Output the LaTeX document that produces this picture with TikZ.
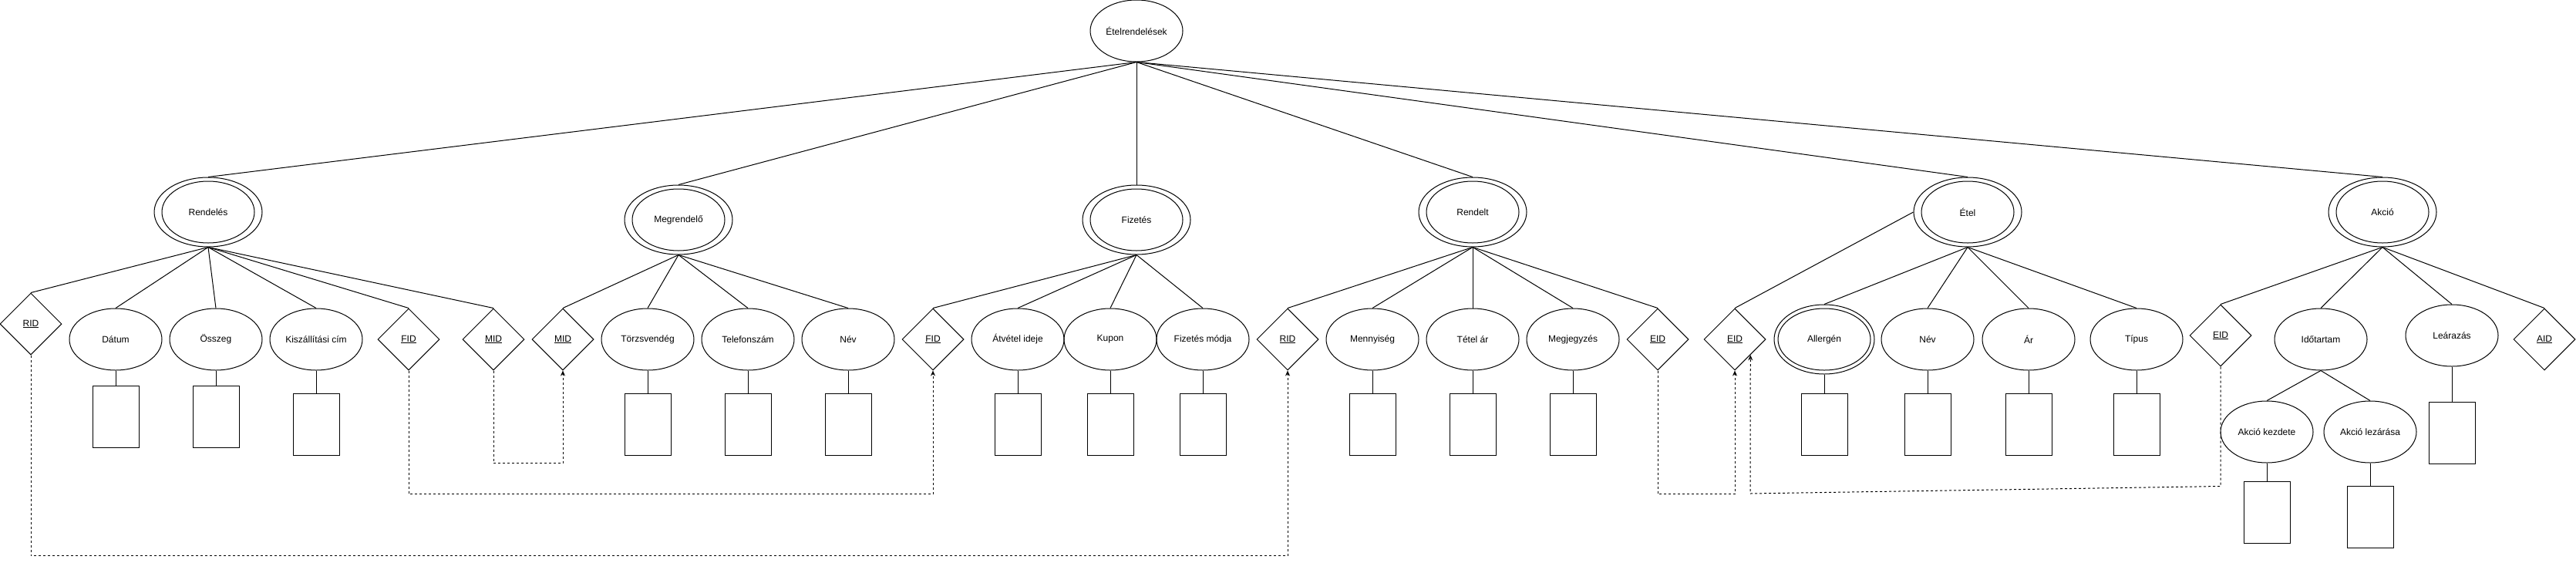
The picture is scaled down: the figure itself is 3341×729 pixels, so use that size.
\documentclass[tikz,border=0pt]{standalone}
\usepackage{fontspec}
\setmainfont{Liberation Sans}
\usetikzlibrary{shapes.geometric,arrows.meta,calc}
\begin{document}
\begin{tikzpicture}[x=1pt,y=-1pt,line width=1pt,
  every node/.style={font=\fontsize{12}{14}\selectfont},
  attr/.style={ellipse,draw,minimum width=120pt,minimum height=80pt,inner sep=0pt},
  entouter/.style={ellipse,draw,minimum width=140pt,minimum height=90pt,inner sep=0pt},
  keyd/.style={diamond,draw,minimum width=80pt,minimum height=80pt,inner sep=0pt},
  valbox/.style={draw,minimum width=60pt,minimum height=80pt,inner sep=0pt},
  fk/.style={dash pattern=on 3pt off 3pt,-{Stealth[length=7pt,width=6pt]}},
  conn/.style={draw}]
\useasboundingbox (0,0) rectangle (3341,729);

% root
\node[attr] (root) at (1474,40) {Ételrendelések};

% entities
\node[entouter] (Rendeles) at (270,275) {};
\node[attr] (RendelesIn) at (Rendeles) {Rendelés};
\node[entouter] (Megrendelo) at (880,285) {};
\node[attr] (MegrendeloIn) at (Megrendelo) {Megrendelő};
\node[entouter] (Fizetes) at (1474,285) {};
\node[attr] (FizetesIn) at (Fizetes) {Fizetés};
\node[entouter] (Rendelt) at (1910,275) {};
\node[attr] (RendeltIn) at (Rendelt) {Rendelt};
\node[entouter] (Etel) at (2552,275) {};
\node[attr] (EtelIn) at (Etel) {Étel};
\node[entouter] (Akcio) at (3090,275) {};
\node[attr] (AkcioIn) at (Akcio) {Akció};

% Rendelés children
\node[keyd] (RID1) at (40,420) {\underline{RID}};
\node[attr] (Datum) at (150,440) {Dátum};
\node[attr] (Osszeg) at (280,440) {Összeg};
\node[attr] (Kiszall) at (410,440) {Kiszállítási cím};
\node[keyd] (FID1) at (530,440) {\underline{FID}};
\node[keyd] (MID1) at (640,440) {\underline{MID}};
\node[valbox] (DatumB) at (150,540) {};
\node[valbox] (OsszegB) at (280,540) {};
\node[valbox] (KiszallB) at (410,550) {};

% Megrendelő children
\node[keyd] (MID2) at (730,440) {\underline{MID}};
\node[attr] (Torzs) at (840,440) {Törzsvendég};
\node[attr] (Tel) at (970,440) {Telefonszám};
\node[attr] (Nev1) at (1100,440) {Név};
\node[valbox] (TorzsB) at (840,550) {};
\node[valbox] (TelB) at (970,550) {};
\node[valbox] (Nev1B) at (1100,550) {};

% Fizetés children
\node[keyd] (FID2) at (1210,440) {\underline{FID}};
\node[attr] (Atvetel) at (1320,440) {Átvétel ideje};
\node[attr] (Kupon) at (1440,440) {Kupon};
\node[attr] (Fizmod) at (1560,440) {Fizetés módja};
\node[valbox] (AtvetelB) at (1320,550) {};
\node[valbox] (KuponB) at (1440,550) {};
\node[valbox] (FizmodB) at (1560,550) {};

% Rendelt children
\node[keyd] (RID2) at (1670,440) {\underline{RID}};
\node[attr] (Menny) at (1780,440) {Mennyiség};
\node[attr] (Tetel) at (1910,440) {Tétel ár};
\node[attr] (Megj) at (2040,440) {Megjegyzés};
\node[keyd] (EID1) at (2150,440) {\underline{EID}};
\node[valbox] (MennyB) at (1780,550) {};
\node[valbox] (TetelB) at (1910,550) {};
\node[valbox] (MegjB) at (2040,550) {};

% Étel children
\node[keyd] (EID2) at (2250,440) {\underline{EID}};
\node[ellipse,draw,minimum width=130pt,minimum height=90pt,inner sep=0pt] (Allergen) at (2366,440) {};
\node[attr] (AllergenIn) at (Allergen) {Allergén};
\node[attr] (Nev2) at (2500,440) {Név};
\node[attr] (Ar) at (2631,440) {Ár};
\node[attr] (Tipus) at (2771,440) {Típus};
\node[valbox] (AllergenB) at (2366,550) {};
\node[valbox] (Nev2B) at (2500,550) {};
\node[valbox] (ArB) at (2631,550) {};
\node[valbox] (TipusB) at (2771,550) {};

% Akció children
\node[keyd] (EID3) at (2880,435) {\underline{EID}};
\node[attr] (Idotartam) at (3010,440) {Időtartam};
\node[attr] (Learazas) at (3180,435) {Leárazás};
\node[keyd] (AID) at (3300,440) {\underline{AID}};
\node[attr] (Kezdete) at (2940,560) {Akció kezdete};
\node[attr] (Lezarasa) at (3074,560) {Akció lezárása};
\node[valbox] (LearazasB) at (3180,561) {};
\node[valbox] (KezdeteB) at (2940,664) {};
\node[valbox] (LezarasaB) at (3074,670) {};

% top-level connectors
\foreach \e in {Rendeles,Megrendelo,Fizetes,Rendelt,Etel,Akcio}
  \draw (root.south) -- (\e.north);

% entity -> attribute connectors
\foreach \c in {RID1,Datum,Osszeg,Kiszall,FID1,MID1}
  \draw (Rendeles.south) -- (\c.north);
\foreach \c in {MID2,Torzs,Tel,Nev1}
  \draw (Megrendelo.south) -- (\c.north);
\foreach \c in {FID2,Atvetel,Kupon,Fizmod}
  \draw (Fizetes.south) -- (\c.north);
\foreach \c in {RID2,Menny,Tetel,Megj,EID1}
  \draw (Rendelt.south) -- (\c.north);
\draw (Etel.west) -- (EID2.north);
\foreach \c in {Allergen,Nev2,Ar,Tipus}
  \draw (Etel.south) -- (\c.north);
\foreach \c in {EID3,Idotartam,Learazas,AID}
  \draw (Akcio.south) -- (\c.north);
\foreach \c in {Kezdete,Lezarasa}
  \draw (Idotartam.south) -- (\c.north);

% attribute -> value boxes
\foreach \a in {Datum,Osszeg,Kiszall,Torzs,Tel,Nev1,Atvetel,Kupon,Fizmod,Menny,Tetel,Megj,Allergen,Nev2,Ar,Tipus,Learazas,Kezdete,Lezarasa}
  \draw (\a.south) -- (\a B.north);

% foreign keys (dashed)
\draw[fk] (RID1.south) -- ++(0,260) -| (RID2.south);
\draw[fk] (FID1.south) -- ++(0,160) -| (FID2.south);
\draw[fk] (MID1.south) -- ++(0,120) -| (MID2.south);
\draw[fk] (EID1.south) -- ++(0,160) -| (EID2.south);
\coordinate (EIDin) at ($(EID2.south)!0.5!(EID2.east)$);
\coordinate (EIDlow) at (2270,640);
\draw[fk] (EID3.south) -- ++(0,155) -- (EIDlow) -- (EIDin);
\end{tikzpicture}
\end{document}
